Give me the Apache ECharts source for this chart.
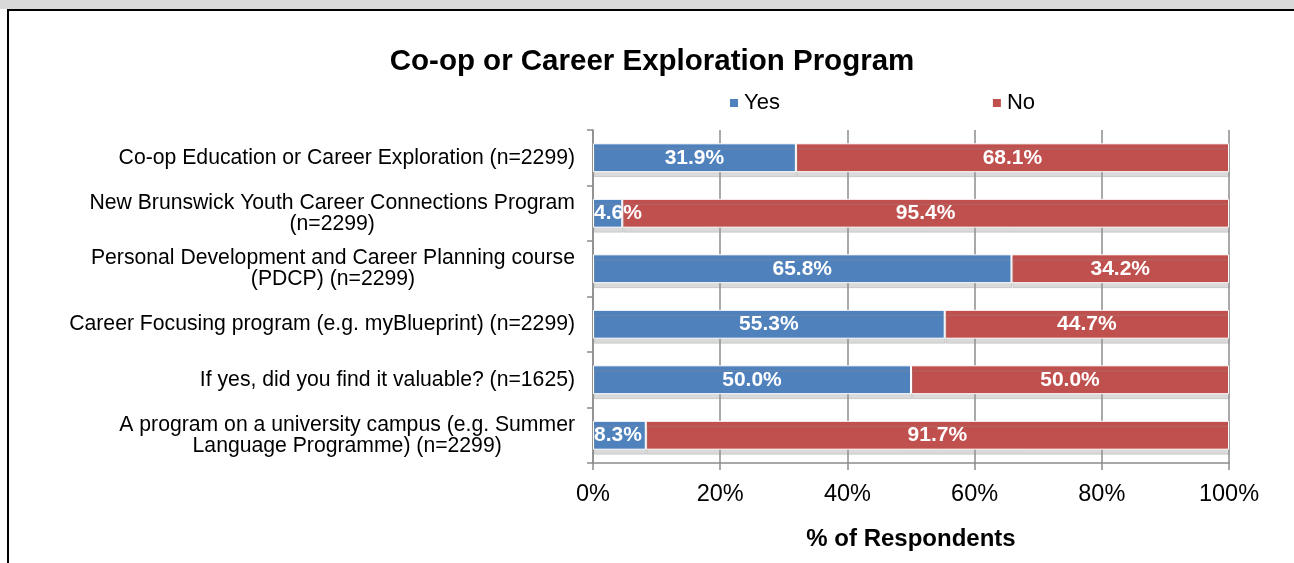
<!DOCTYPE html>
<html>
<head>
<meta charset="utf-8">
<title>Co-op or Career Exploration Program</title>
<script src="https://cdn.jsdelivr.net/npm/echarts@6/dist/echarts.min.js"></script>
<style>
  html, body { margin: 0; padding: 0; background: #fff; }
  #wrap { position: relative; width: 1294px; height: 563px; overflow: hidden; }
  #main { position: absolute; left: 0; top: 0; width: 1294px; height: 563px; }
  /* frame around the chart, as in the source document */
  #band { position: absolute; left: 0; top: 0; width: 1294px; height: 9px; background: #d9d9d9; }
  #topline { position: absolute; left: 7px; top: 9px; width: 1287px; height: 2px; background: #000; }
  #leftline { position: absolute; left: 7px; top: 9px; width: 2px; height: 554px; background: #000; }
</style>
</head>
<body>
<div id="wrap">
  <div id="main"></div>
  <div id="band"></div>
  <div id="topline"></div>
  <div id="leftline"></div>
</div>
<script type="text/javascript">
var categories = [
  'Co-op Education or Career Exploration (n=2299)',
  'New Brunswick Youth Career Connections Program\n(n=2299)',
  'Personal Development and Career Planning course\n(PDCP) (n=2299)',
  'Career Focusing program (e.g. myBlueprint) (n=2299)',
  'If yes, did you find it valuable? (n=1625)',
  'A program on a university campus (e.g. Summer\nLanguage Programme) (n=2299)'
];
var yesValues = [31.9, 4.6, 65.8, 55.3, 50.0, 8.3];
var noValues = [68.1, 95.4, 34.2, 44.7, 50.0, 91.7];
var xTicks = [0, 20, 40, 60, 80, 100];

var FONT = "'Liberation Sans', Arial, sans-serif";
var myChart = echarts.init(document.getElementById('main'));

function barStyle(color) {
  return {
    color: color,
    borderColor: '#ffffff',
    borderWidth: 1,
    shadowColor: 'rgba(150, 150, 150, 0.35)',
    shadowOffsetX: 1,
    shadowOffsetY: 5,
    shadowBlur: 0
  };
}

// segments too narrow for their label: start the label at the bar's left edge
function withLabelPos(values) {
  return values.map(function (v) {
    if (v < 10) {
      return { value: v, label: { position: 'insideLeft', distance: 1 } };
    }
    return v;
  });
}

var dataLabel = {
  show: true,
  position: 'inside',
  color: '#ffffff',
  fontFamily: FONT,
  fontWeight: 'bold',
  fontSize: 21,
  formatter: function (p) { return p.value.toFixed(1) + '%'; }
};

var option = {
  animation: false,
  backgroundColor: 'transparent',
  title: {
    text: 'Co-op or Career Exploration Program',
    left: 647,
    textAlign: 'center',
    top: 42,
    textStyle: { fontFamily: FONT, fontWeight: 'bold', fontSize: 29.5, color: '#000' }
  },
  legend: {
    left: 723,
    top: 87,
    icon: 'rect',
    itemWidth: 10,
    itemHeight: 10,
    itemGap: 211,
    textStyle: { fontFamily: FONT, fontSize: 22, color: '#000' },
    data: ['Yes', 'No']
  },
  grid: { left: 593, right: 65, top: 130, bottom: 100, containLabel: false },
  xAxis: {
    type: 'value',
    min: xTicks[0],
    max: xTicks[xTicks.length - 1],
    interval: 20,
    name: '% of Respondents',
    nameLocation: 'middle',
    nameGap: 64,
    nameTextStyle: { fontFamily: FONT, fontWeight: 'bold', fontSize: 24, color: '#000' },
    axisLine: { show: true, lineStyle: { color: '#8c8c8c', width: 1.5 } },
    axisTick: { show: true, length: 7, lineStyle: { color: '#8c8c8c', width: 1.5 } },
    splitLine: { show: true, lineStyle: { color: '#8c8c8c', width: 1.5 } },
    axisLabel: {
      margin: 20,
      fontFamily: FONT,
      fontSize: 23.5,
      color: '#000',
      formatter: '{value}%'
    }
  },
  yAxis: {
    type: 'category',
    inverse: true,
    data: categories,
    axisLine: { show: true, lineStyle: { color: '#8c8c8c', width: 1.5 } },
    axisTick: { show: true, length: 6, lineStyle: { color: '#8c8c8c', width: 1.5 } },
    axisLabel: {
      margin: 18,
      fontFamily: FONT,
      fontSize: 21.2,
      lineHeight: 21,
      color: '#000',
      formatter: function (v) {
        return v.split('\n').map(function (s) { return '{c|' + s + '}'; }).join('\n');
      },
      rich: {
        c: { align: 'center', fontFamily: FONT, fontSize: 21.2, lineHeight: 21, color: '#000' }
      }
    }
  },
  series: [
    {
      name: 'Yes',
      type: 'bar',
      stack: 'total',
      barWidth: '52%',
      data: withLabelPos(yesValues),
      itemStyle: barStyle('#4f81bd'),
      label: dataLabel
    },
    {
      name: 'No',
      type: 'bar',
      stack: 'total',
      barWidth: '52%',
      data: withLabelPos(noValues),
      itemStyle: barStyle('#c0504d'),
      label: dataLabel
    }
  ]
};

myChart.setOption(option);
</script>
</body>
</html>
